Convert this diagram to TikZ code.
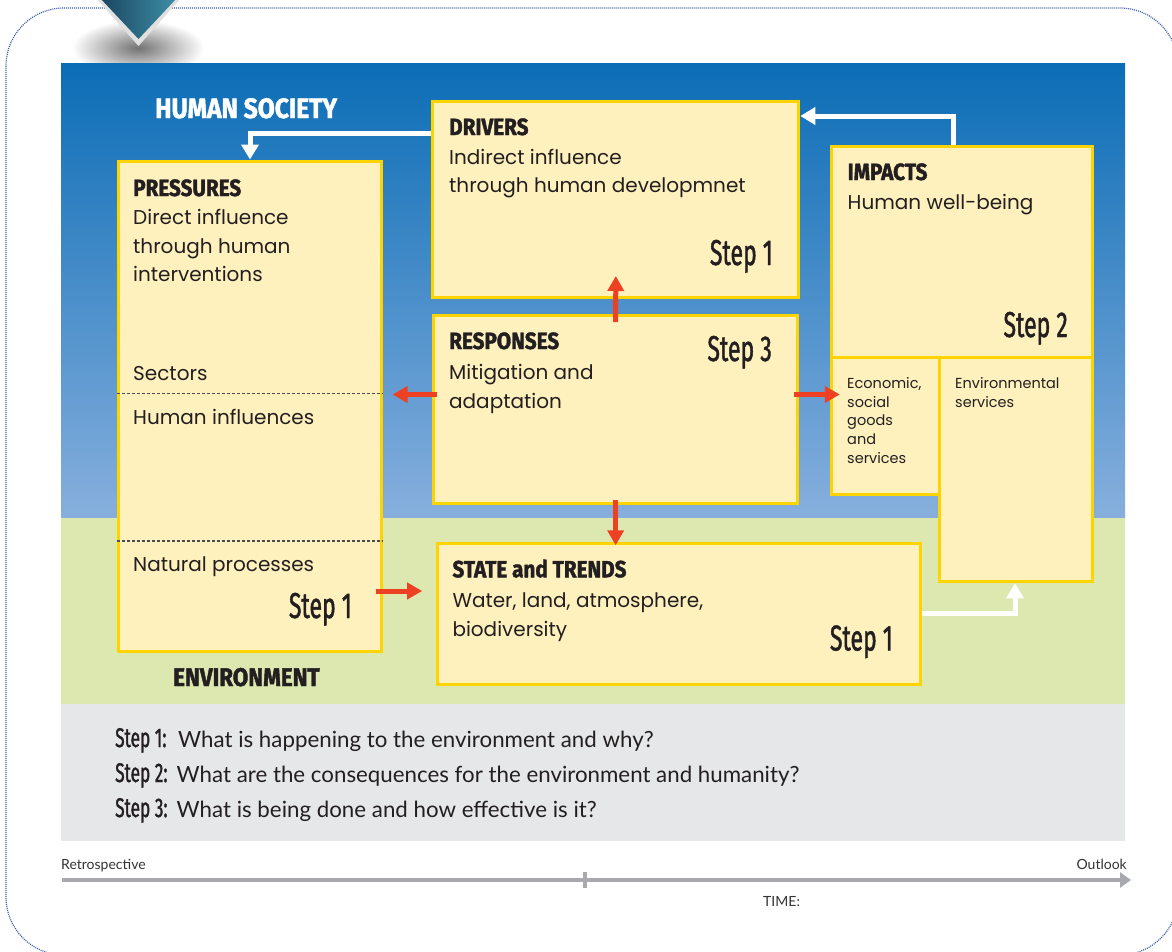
\documentclass[tikz,border=0pt]{standalone}
\usepackage{fontspec}
\usepackage{graphicx}
\usetikzlibrary{arrows.meta,calc}
\setmainfont{Poppins}
\newfontfamily\ttlfont{Fira Sans}[FakeStretch=0.88, BoldFeatures={FakeBold=1.6}]
\newfontfamily\stepfont{Fira Sans}[FakeStretch=0.64, FakeBold=1.2]
\newfontfamily\qfont{Lato}
\definecolor{ink}{HTML}{231F20}
\definecolor{boxfill}{HTML}{FEF1BE}
\definecolor{boxline}{HTML}{FDD400}
\definecolor{bluetop}{HTML}{0B6DB6}
\definecolor{bluemid}{HTML}{3C89C9}
\definecolor{bluebot}{HTML}{87AFDD}
\definecolor{envgreen}{HTML}{DCE8B0}
\definecolor{qgray}{HTML}{E6E7E9}
\definecolor{redarr}{HTML}{EE4123}
\definecolor{tgray}{HTML}{A7A9AC}
\definecolor{bordblue}{HTML}{3A5CA8}
\definecolor{orndark}{HTML}{1B4660}
\definecolor{ornlight}{HTML}{3E8FA8}
\tikzset{
  box/.style={draw=boxline, fill=boxfill, line width=3pt, inner sep=0pt, anchor=north west},
  body/.style={font=\fontsize{20}{24}\selectfont, text=ink, inner sep=0pt, anchor=base west},
  smalltxt/.style={font=\fontsize{14.5}{17}\selectfont, text=ink, inner sep=0pt, anchor=base west},
  ttl/.style={font=\ttlfont\bfseries\fontsize{23.5}{28}\selectfont, text=ink, inner sep=0pt, anchor=base west},
  stp/.style={font=\stepfont\fontsize{36}{40}\selectfont, text=ink, inner sep=0pt, anchor=base east},
  qstep/.style={font=\stepfont\fontsize{27}{30}\selectfont, text=ink, inner sep=0pt, anchor=base west},
  qtext/.style={font=\qfont\fontsize{22.3}{26}\selectfont, text=ink, inner sep=0pt, anchor=base west},
  tl/.style={font=\qfont\fontsize{14}{17}\selectfont, text=black!80, inner sep=0pt},
  warrow/.style={draw=white, line width=5pt, -{Triangle[width=17pt,length=15pt]}},
  rarrow/.style={draw=redarr, line width=5pt, -{Triangle[width=16pt,length=15pt]}},
  dash line/.style={draw=black!70, line width=1.1pt, dash pattern=on 3pt off 2pt},
}
\begin{document}
\begin{tikzpicture}[x=1pt,y=-1pt]
\useasboundingbox (0,0) rectangle (1172,951);
\fill[white] (0,0) rectangle (1172,951);
% outer dotted frame
\begin{scope}
\clip (0,0) rectangle (1172,951);
\draw[bordblue, line width=1.2pt, dash pattern=on 1pt off 1pt, rounded corners=58pt] (6,8) rectangle (1178,955);
\end{scope}
% ornament shadow and ornament
\shade[inner color=black!55, outer color=white] (138,48) ellipse (66 and 28);
\fill[white!88!black] (96,-2) -- (181,-2) -- (138.5,46) -- cycle;
\shade[left color=orndark, right color=ornlight] (100,-2) -- (177,-2) -- (138.5,39) -- cycle;
% background panels
\shade[top color=bluetop, middle color=bluemid, bottom color=bluebot] (61,63) rectangle (1125,518);
\fill[envgreen] (61,517.5) rectangle (1125,704);
\fill[qgray] (61,704) rectangle (1125,841);

% boxes
\node[box, minimum width=263pt, minimum height=490pt] (pres) at (116.5,159.5) {};
\node[box, minimum width=366pt, minimum height=196.3pt] (drv) at (431.3,99.7) {};
\node[box, minimum width=364.3pt, minimum height=188.3pt] (rsp) at (432,313.7) {};
\node[box, minimum width=260.4pt, minimum height=211pt] (imp) at (830.3,144.7) {};
\node[box, minimum width=107.7pt, minimum height=137.3pt] (eco) at (830.3,355.7) {};
\node[box, minimum width=152.7pt, minimum height=224.6pt] (env) at (938,355.7) {};
\node[box, minimum width=483pt, minimum height=140.7pt] (sta) at (435.7,542.3) {};

% dashed separators in PRESSURES
\coordinate (d1c) at (0,393.5);
\coordinate (d2c) at (0,541);
\draw[dash line] (pres.west |- d1c) -- (pres.east |- d1c);
\draw[dash line] (pres.west |- d2c) -- (pres.east |- d2c);

% white arrows
\coordinate (w1) at (250,133);
\coordinate (w2) at (953,116);
\coordinate (w3) at (1015,613);
\draw[warrow] (drv.west |- w1) -| (w1 |- pres.north);
\draw[warrow] (w2 |- imp.north) |- (drv.east |- w2);
\draw[warrow] (sta.east |- w3) -| (w3 |- env.south);

% red arrows
\coordinate (r1) at (0,394.5);
\coordinate (r2) at (0,591);
\draw[rarrow] ($(rsp.north)+(0,8.5)$) -- ($(drv.south)+(0,-23)$);
\draw[rarrow] ($(rsp.south)+(0,-5)$) -- ($(rsp.south |- sta.north)+(0,3)$);
\draw[rarrow] ($(rsp.west |- r1)+(5,0)$) -- ($(pres.east |- r1)+(10,0)$);
\draw[rarrow] ($(rsp.east |- r1)+(-5,0)$) -- ($(eco.west |- r1)+(9.5,0)$);
\draw[rarrow] ($(pres.east |- r2)+(-6.5,0)$) -- ($(sta.west |- r2)+(-13.5,0)$);

% region labels
\node[ttl, text=white, font=\ttlfont\bfseries\fontsize{28}{32}\selectfont] (hs) at (155,118) {HUMAN SOCIETY};
\node[ttl, font=\ttlfont\bfseries\fontsize{25.5}{28}\selectfont] (envlbl) at (173,686) {ENVIRONMENT};

% PRESSURES texts
\node[ttl] (pt) at (133,196) {PRESSURES};
\node[body] (p1) at (133,224) {Direct influence};
\node[body] (p2) at (133,253) {through human};
\node[body] (p3) at (133,281) {interventions};
\node[body] (p4) at (133,380) {Sectors};
\node[body] (p5) at (133,424) {Human influences};
\node[body] (p6) at (133,571) {Natural processes};
\node[stp] (ps) at (352,618) {Step 1};

% DRIVERS texts
\node[ttl] (dt) at (449,135) {DRIVERS};
\node[body] (d1) at (449,164) {Indirect influence};
\node[body] (d2) at (449,192) {through human developmnet};
\node[stp] (ds) at (773,265) {Step 1};

% RESPONSES texts
\node[ttl] (rt) at (449,349) {RESPONSES};
\node[body] (r1t) at (449,379.5) {Mitigation and};
\node[body] (r2t) at (449,408.5) {adaptation};
\node[stp] (rs) at (772,361) {Step 3};

% IMPACTS texts
\node[ttl] (it) at (847.5,180) {IMPACTS};
\node[body] (i1) at (847.5,209) {Human well-being};
\node[stp] (is) at (1068,337) {Step 2};

% Economic / Environmental services
\node[smalltxt] (e1) at (847,388) {Economic,};
\node[smalltxt] (e2) at (847,407) {social};
\node[smalltxt] (e3) at (847,425.5) {goods};
\node[smalltxt] (e4) at (847,444.5) {and};
\node[smalltxt] (e5) at (847,463.5) {services};
\node[smalltxt] (v1) at (955,388) {Environmental};
\node[smalltxt] (v2) at (955,407) {services};

% STATE texts
\node[ttl] (st) at (452.3,577.3) {STATE and TRENDS};
\node[body] (s1) at (452.3,607.3) {Water, land, atmosphere,};
\node[body] (s2) at (452.3,636.7) {biodiversity};
\node[stp] (ss) at (893,650.5) {Step 1};

% questions
\node[qstep] (q1s) at (115,747) {Step 1:};
\node[qtext] (q1) at (178,747) {What is happening to the environment and why?};
\node[qstep] (q2s) at (115,782) {Step 2:};
\node[qtext] (q2) at (176.5,782) {What are the consequences for the environment and humanity?};
\node[qstep] (q3s) at (115,817) {Step 3:};
\node[qtext] (q3) at (176.5,817) {What is being done and how effective is it?};

% timeline
\coordinate (t0) at (62,880);
\coordinate (t1) at (1131,880);
\coordinate (tk) at (585,880);
\draw[tgray, line width=4.7pt, -{Triangle[width=15pt,length=11pt]}] (t0) -- (t1);
\draw[tgray, line width=4pt] ($(tk)+(0,-8)$) -- ($(tk)+(0,8)$);
\node[tl, anchor=base west] (retro) at (61,869) {Retrospective};
\node[tl, anchor=base east] (outl) at (1127,869) {Outlook};
\node[tl, anchor=base west] (tm) at (763,906) {TIME:};
\end{tikzpicture}
\end{document}
